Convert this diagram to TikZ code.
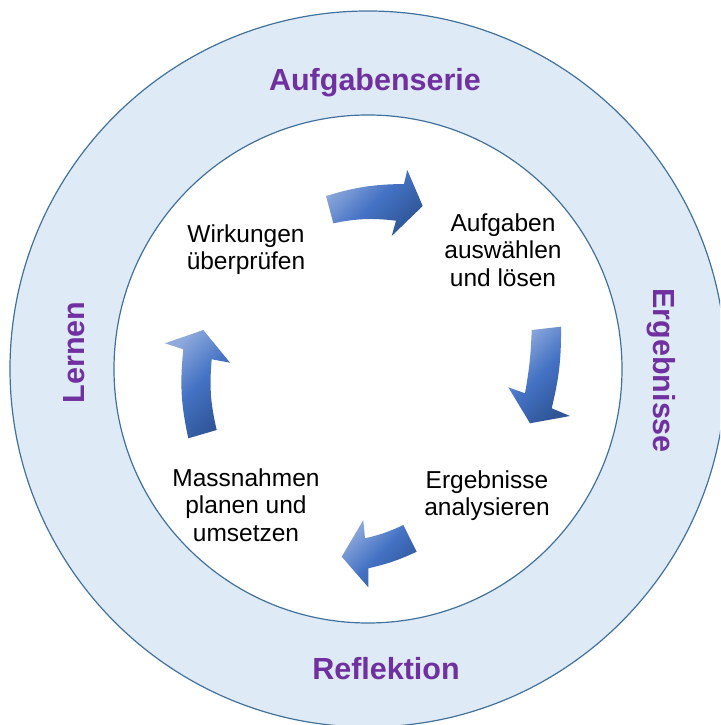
\documentclass[tikz,border=0pt]{standalone}
\usepackage{fontspec}
\setmainfont{Liberation Sans}
\usetikzlibrary{positioning}
\definecolor{ringfill}{RGB}{222,235,247}
\definecolor{ringline}{RGB}{65,113,156}
\definecolor{ringpurple}{RGB}{112,48,160}
\definecolor{arrlight}{RGB}{143,170,220}
\definecolor{arrmid}{RGB}{68,114,196}
\definecolor{arrdark}{RGB}{47,85,151}

\begin{document}
\begin{tikzpicture}[x=1pt, y=1pt,
      ring/.style={draw=ringline, line width=1.2pt},
      ringlabel/.style={font=\fontsize{30.5}{36}\selectfont\bfseries, text=ringpurple, inner sep=0pt},
      stage/.style={align=center, font=\fontsize{24.5}{27.5}\selectfont, inner sep=0pt},
      cyclearr/.style={top color=arrlight, bottom color=arrdark, middle color=arrmid, shading angle=45, draw=none}
    ]
      \useasboundingbox (0,0) rectangle (720,725);
      \clip (0,0) rectangle (720,725);

      % Outer ring & inner disc
      \coordinate (c) at (368,356);
      \fill[ringfill] (c) circle (358);
      \draw[ring] (c) circle (358);
      \draw[ring, fill=white] (c) circle (254);

      % Ring labels
      \node[ringlabel, anchor=base] (series) at (375,634.6) {Aufgabenserie};
      \node[ringlabel, anchor=base, rotate=-90] (results) at (653.5,354.3) {Ergebnisse};
      \node[ringlabel, anchor=base] (reflect) at (386,45.5) {Reflektion};
      \node[ringlabel, anchor=base, rotate=90] (learn) at (84,372.5) {Lernen};

      % Cycle stages
      \node[stage] (check) at (246,475.5) {Wirkungen\\überprüfen};
      \node[stage] (solve) at (503,475) {Aufgaben\\auswählen\\und lösen};
      \node[stage] (analyse) at (487,229.5) {Ergebnisse\\analysieren};
      \node[stage] (plan) at (246,220) {Massnahmen\\planen und\\umsetzen};

      % Curved block arrows
      \shade[cyclearr] (326,529) to[bend left=8] (404,541) -- (407.3,555) -- (422.7,519) -- (391.7,489) -- (396,504.3) to[bend right=9] (333.3,501.7) -- cycle;
      \shade[cyclearr] (561,398.3) to[bend left=7] (551.7,316.7) -- (570,309) -- (530,301.7) -- (508.3,337.7) -- (525,331.7) to[bend right=4] (531.7,395) -- cycle;
      \shade[cyclearr] (416.7,173.3) to[bend left=6] (368.3,156.7) -- (368.3,137.7) -- (341.7,168.3) -- (363.3,205) -- (365,186.7) to[bend right=6] (403.3,200) -- cycle;
      \shade[cyclearr] (188.3,286.7) to[bend left=9] (183.3,375.7) -- (165,381.7) -- (203.3,395) -- (230,362.3) -- (211.7,365.7) to[bend right=9] (216.7,295) -- cycle;
    \end{tikzpicture}
\end{document}
